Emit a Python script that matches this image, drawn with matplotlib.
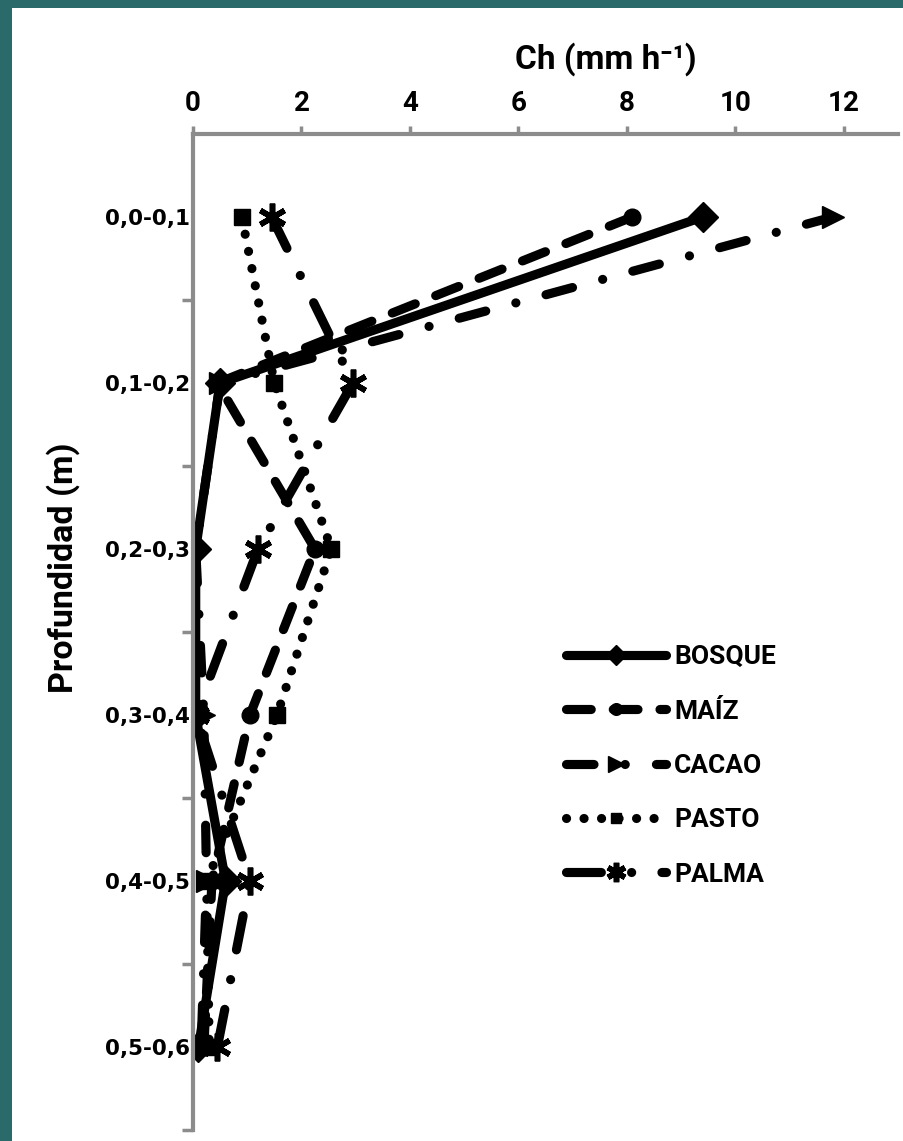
import matplotlib
matplotlib.use("Agg")
import matplotlib.pyplot as plt
from matplotlib.patches import Rectangle

# depth classes (top to bottom)
profundidad = ["0,0-0,1", "0,1-0,2", "0,2-0,3", "0,3-0,4", "0,4-0,5", "0,5-0,6"]

# hydraulic conductivity Ch (mm h-1)
bosque = [9.4, 0.5, 0.05, 0.05, 0.6, 0.1]
maiz = [8.1, 0.45, 2.25, 1.05, 0.35, 0.2]
cacao = [11.8, 0.5, 0.05, 0.2, 0.25, 0.15]
pasto = [0.9, 1.5, 2.55, 1.55, 0.25, 0.3]
palma = [1.45, 2.95, 1.2, 0.05, 1.05, 0.45]

x_ticks = [0, 2, 4, 6, 8, 10, 12]

teal = "#2b6a6b"
gris = "#8c8c8c"
fuente = ["Roboto", "DejaVu Sans"]

plt.rcParams["lines.dash_capstyle"] = "round"
plt.rcParams["lines.solid_capstyle"] = "round"

fig = plt.figure(figsize=(9.04, 11.41), dpi=100, facecolor=teal)
fig.patches.append(Rectangle((12 / 904, 0), 1, 1 - 8 / 1141, transform=fig.transFigure,
                             facecolor="white", edgecolor="none", zorder=-10))

ax = fig.add_axes([193 / 904, 11 / 1141, 705 / 904, 996 / 1141])
ax.set_facecolor("none")

y = list(range(len(profundidad)))
lw = 6.6
ax.plot(bosque, y, color="black", lw=lw, ls="-", marker="D", ms=15, label="BOSQUE")
ax.plot(maiz, y, color="black", lw=lw, ls=(0, (2.7, 2.4)), marker="o", ms=12, label="MAÍZ")
ax.plot(cacao, y, color="black", lw=lw, ls=(0, (3.0, 3.4, 0.01, 3.4)), marker=">", ms=16, label="CACAO")
ax.plot(pasto, y, color="black", lw=lw, ls=(0, (0.01, 1.9)), marker="s", ms=11, label="PASTO")
ax.plot(palma, y, color="black", lw=lw, ls=(0, (3.8, 3.3, 0.01, 3.3)), marker=(6, 2, 0), ms=20,
        mew=4, label="PALMA")

ax.set_xlim(0, 13)
ax.set_ylim(5.5, -0.5)

ax.xaxis.tick_top()
ax.xaxis.set_label_position("top")
ax.set_xticks(x_ticks)
ax.set_xticklabels([str(v) for v in x_ticks], family=fuente, fontweight="bold", fontsize=20)
ax.tick_params(axis="x", direction="out", length=6, width=2.5, color=gris, pad=6)
ax.set_xlabel("Ch (mm h⁻¹)", family=fuente, fontweight="bold", fontsize=24)
ax.xaxis.set_label_coords(0.586, 1.066)

ax.set_yticks(y)
ax.set_yticklabels(profundidad, fontfamily="DejaVu Sans", fontweight="bold", fontsize=15.5)
ax.set_yticks([i + 0.5 for i in y], minor=True)
ax.tick_params(axis="y", which="major", length=0, pad=2)
ax.tick_params(axis="y", which="minor", direction="out", length=8, width=2.5, color=gris)
ax.set_ylabel("Profundidad (m)", family=fuente, fontweight="bold", fontsize=24.5)
ax.yaxis.set_label_coords(-0.16, 0.565)

for s in ["right", "bottom"]:
    ax.spines[s].set_visible(False)
for s in ["top", "left"]:
    ax.spines[s].set_color(gris)
    ax.spines[s].set_linewidth(3)

leg = ax.legend(loc="upper left", bbox_to_anchor=(0.51, 0.5), frameon=False,
                handlelength=3.8, handletextpad=0.3, labelspacing=1.15, borderpad=0,
                markerscale=0.7, prop={"family": fuente, "weight": "bold", "size": 19})

fig.savefig("out.png", dpi=100, facecolor=teal)
